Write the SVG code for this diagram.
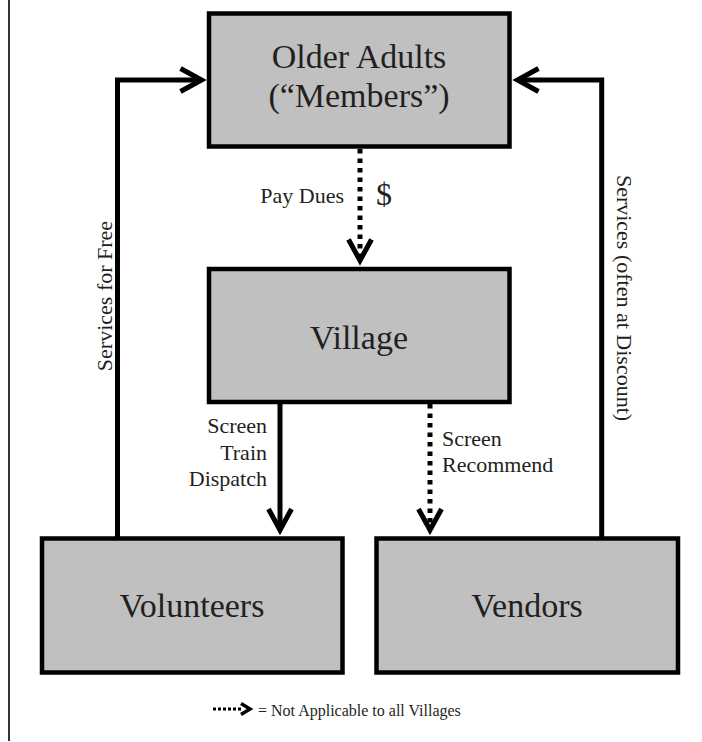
<svg xmlns="http://www.w3.org/2000/svg" width="702" height="742" viewBox="0 0 702 742">
<defs>
<style>
.box{fill:#c0c0c0;stroke:#000;stroke-width:4.5}
.big{font-family:"Liberation Serif","Times New Roman",serif;font-size:34px;fill:#231f20;text-anchor:middle}
.lbl{font-family:"Liberation Serif","Times New Roman",serif;font-size:22px;fill:#231f20}
.leg{font-family:"Liberation Serif","Times New Roman",serif;font-size:16px;fill:#231f20}
.solid{fill:none;stroke:#000;stroke-width:5;marker-end:url(#chev)}
.dot{fill:none;stroke:#000;stroke-width:5;stroke-dasharray:4.5 5;marker-end:url(#chev)}
</style>
<marker id="chev" markerUnits="userSpaceOnUse" viewBox="-30 -20 40 40" markerWidth="40" markerHeight="40" refX="0" refY="0" orient="auto" overflow="visible">
<path d="M-21,-11.5 L0,0 L-21,11.5" fill="none" stroke="#000" stroke-width="5" stroke-dasharray="none" stroke-linejoin="miter" stroke-miterlimit="10"/>
</marker>
</defs>
<rect width="702" height="742" fill="#fff"/>
<line x1="9" y1="0" x2="9" y2="741" stroke="#333" stroke-width="2"/>

<g id="connectors">
<path class="solid" d="M117.5,538 V80 H201.5"/>
<path class="solid" d="M601.7,538 V80 H517.5"/>
<path class="dot" d="M360,149 V260.5"/>
<path class="solid" d="M280,404 V530"/>
<path class="dot" d="M430,404 V530"/>
</g>

<g id="older-adults">
<rect class="box" x="209" y="13.5" width="300.5" height="133"/>
<text class="big" x="359" y="68">Older Adults</text>
<text class="big" x="359" y="107">(“Members”)</text>
</g>
<g id="village">
<rect class="box" x="209" y="269" width="300.5" height="133"/>
<text class="big" x="359" y="349">Village</text>
</g>
<g id="volunteers">
<rect class="box" x="42" y="538.5" width="300.5" height="134"/>
<text class="big" x="192" y="617">Volunteers</text>
</g>
<g id="vendors">
<rect class="box" x="376.5" y="538.5" width="301.5" height="134"/>
<text class="big" x="527" y="617">Vendors</text>
</g>

<g id="labels">
<text class="lbl" x="344" y="203" text-anchor="end">Pay Dues</text>
<text class="lbl" x="376" y="205" style="font-size:32px">$</text>
<text class="lbl" x="267" y="433" text-anchor="end">Screen</text>
<text class="lbl" x="267" y="460" text-anchor="end">Train</text>
<text class="lbl" x="267" y="486" text-anchor="end">Dispatch</text>
<text class="lbl" x="442" y="446">Screen</text>
<text class="lbl" x="442" y="472">Recommend</text>
<text class="lbl" text-anchor="middle" transform="translate(112,296) rotate(-90)">Services for Free</text>
<text class="lbl" text-anchor="middle" transform="translate(617,298) rotate(90)">Services (often at Discount)</text>
</g>

<g id="legend">
<path d="M213,709 H242" fill="none" stroke="#000" stroke-width="3" stroke-dasharray="3 2"/>
<path d="M241,703.5 L250,709 L241,714.5" fill="none" stroke="#000" stroke-width="3.5"/>
<text class="leg" x="258" y="716">= Not Applicable to all Villages</text>
</g>
</svg>
